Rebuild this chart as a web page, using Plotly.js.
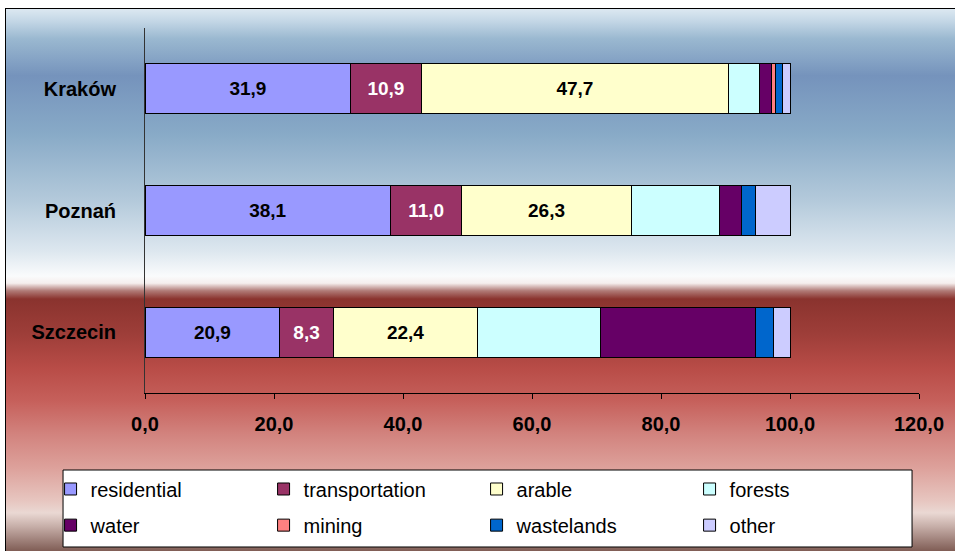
<!DOCTYPE html>
<html>
<head>
<meta charset="utf-8">
<script src="https://cdn.plot.ly/plotly-3.0.1.min.js"></script>
<style>
  html, body { margin: 0; padding: 0; background: #ffffff; }
  #bg {
    position: absolute; left: 5px; top: 8px; width: 950px; height: 543px;
    border-top: 1.5px solid #000; border-left: 1.5px solid #000;
    background: linear-gradient(to bottom,
      #dce8f1 0%, #c4d7e6 2.2%, #9ab8d0 5.5%, #7593bc 12.3%, #88aac7 23%,
      #b4cadb 35.4%, #dde7ef 44.6%, #fafbfc 49.2%, #f5eeed 50.5%, #b07a76 51.9%,
      #8a332e 53.4%, #9e3e39 59.9%, #b84c47 66.1%, #c6605b 72.2%, #d2837e 78.3%,
      #dda19b 84.5%, #e7c6c0 90.6%, #ead8d3 92.8%, #c8b0aa 95.2%, #7d5a52 100%);
  }
  #chart { position: absolute; left: 0; top: 0; width: 955px; height: 551px; }
</style>
</head>
<body>
<div id="bg"></div>
<div id="chart"></div>
<script>
// Data
const cities = ['Kraków', 'Poznań', 'Szczecin'];
const residential    = [31.9, 38.1, 20.9];
const transportation = [10.9, 11.0, 8.3];
const arable         = [47.7, 26.3, 22.4];
const forests        = [4.7, 13.7, 19.0];
const water          = [2.0, 3.4, 24.1];
const mining         = [0.5, 0.0, 0.0];
const wastelands     = [1.1, 2.2, 2.8];
const other          = [1.2, 5.3, 2.5];
const xTickVals = [0, 20, 40, 60, 80, 100, 120];

const FONT = 'Liberation Sans, Arial, sans-serif';

const seriesDefs = [
  {name: 'residential',    values: residential,    color: '#9999FF', label: true,  textColor: '#000', legend: 'legend'},
  {name: 'transportation', values: transportation, color: '#993366', label: true,  textColor: '#fff', legend: 'legend'},
  {name: 'arable',         values: arable,         color: '#FFFFCC', label: true,  textColor: '#000', legend: 'legend'},
  {name: 'forests',        values: forests,        color: '#CCFFFF', label: false, textColor: '#000', legend: 'legend'},
  {name: 'water',          values: water,          color: '#660066', label: false, textColor: '#000', legend: 'legend2'},
  {name: 'mining',         values: mining,         color: '#FF8080', label: false, textColor: '#000', legend: 'legend2'},
  {name: 'wastelands',     values: wastelands,     color: '#0066CC', label: false, textColor: '#000', legend: 'legend2'},
  {name: 'other',          values: other,          color: '#CCCCFF', label: false, textColor: '#000', legend: 'legend2'}
];

const traces = seriesDefs.map(s => ({
  type: 'bar',
  orientation: 'h',
  name: s.name,
  y: cities,
  x: s.values,
  legend: s.legend,
  marker: {color: s.color, line: {color: '#000', width: 1}},
  text: s.label ? s.values : undefined,
  texttemplate: s.label ? '%{x:.1f}' : undefined,
  textposition: s.label ? 'inside' : 'none',
  insidetextanchor: 'middle',
  textfont: {family: FONT, size: 19, color: s.textColor, weight: 'bold'},
  hoverinfo: 'none'
}));

const legendCommon = {
  orientation: 'h',
  xanchor: 'left',
  yanchor: 'middle',
  x: -0.122,
  bgcolor: 'rgba(0,0,0,0)',
  borderwidth: 0,
  font: {family: FONT, size: 20, color: '#000'},
  entrywidth: 168,
  entrywidthmode: 'pixels',
  traceorder: 'normal'
};

const layout = {
  width: 955,
  height: 551,
  margin: {l: 145, r: 36, t: 28, b: 158, autoexpand: false},
  paper_bgcolor: 'rgba(0,0,0,0)',
  plot_bgcolor: 'rgba(0,0,0,0)',
  barmode: 'stack',
  bargap: 0.59,
  separators: ', ',
  showlegend: true,
  font: {family: FONT, color: '#000'},
  xaxis: {
    range: [0, 120],
    tickvals: xTickVals,
    tickformat: '.1f',
    showgrid: false,
    zeroline: false,
    showline: true,
    linecolor: '#000',
    linewidth: 1,
    ticks: 'outside',
    ticklen: 5,
    tickcolor: '#000',
    ticklabelstandoff: 8,
    tickfont: {family: FONT, size: 20, color: '#000', weight: 'bold'}
  },
  yaxis: {
    autorange: 'reversed',
    showgrid: false,
    zeroline: false,
    showline: true,
    linecolor: '#333',
    linewidth: 1,
    ticks: '',
    ticklabelstandoff: 24,
    tickfont: {family: FONT, size: 20, color: '#000', weight: 'bold'}
  },
  legend: Object.assign({}, legendCommon, {y: -0.263}),
  legend2: Object.assign({}, legendCommon, {y: -0.362}),
  shapes: [{
    type: 'rect', xref: 'paper', yref: 'paper', layer: 'below',
    x0: -0.1059, x1: 0.991, y0: -0.4219, y1: -0.211,
    fillcolor: '#ffffff', line: {color: '#000', width: 1}
  }]
};

Plotly.newPlot('chart', traces, layout, {displayModeBar: false, staticPlot: true});
</script>
</body>
</html>
